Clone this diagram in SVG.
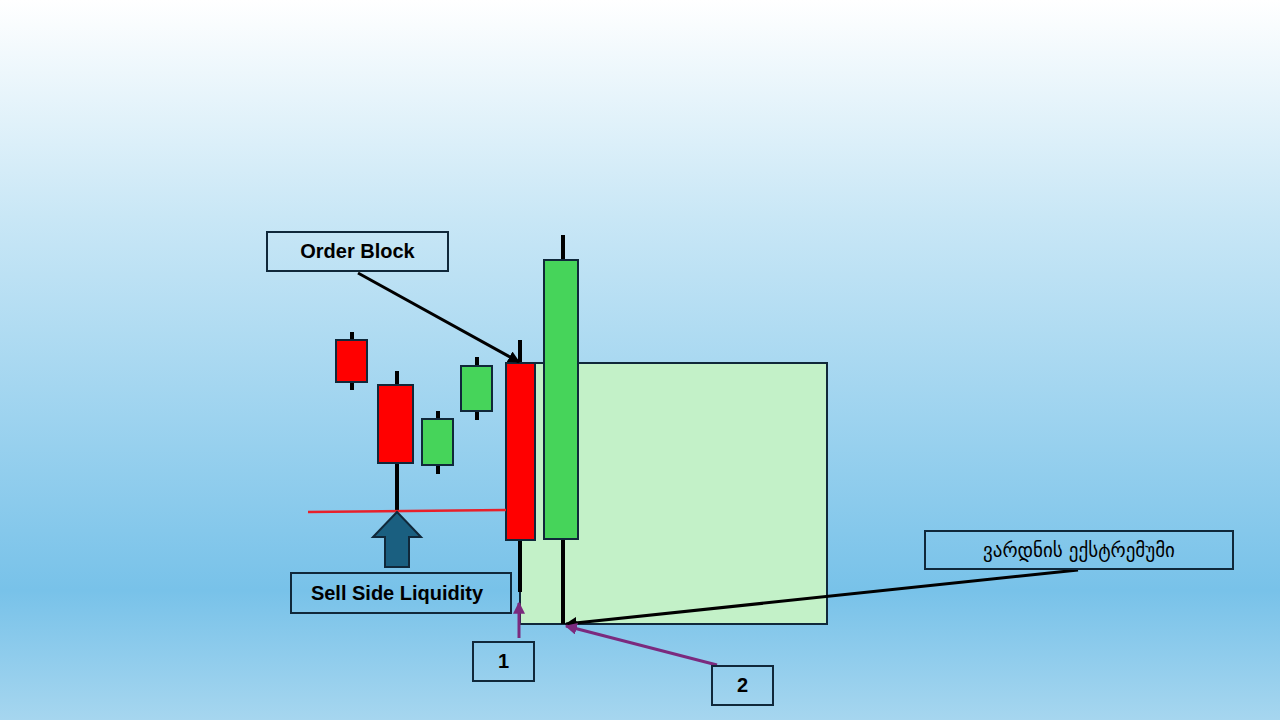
<svg xmlns="http://www.w3.org/2000/svg" width="1280" height="720" viewBox="0 0 1280 720">
<defs>
<linearGradient id="bg" x1="0" y1="0" x2="0" y2="1">
<stop offset="0" stop-color="#ffffff"/><stop offset="0.3" stop-color="#c9e7f6"/><stop offset="0.82" stop-color="#78c2e9"/><stop offset="1" stop-color="#a6d6ef"/>
</linearGradient>
<marker id="ab" viewBox="0 0 10 10" refX="9" refY="5" markerWidth="4" markerHeight="4" orient="auto"><path d="M0,0L10,5L0,10z" fill="#000"/></marker>
<marker id="ap" viewBox="0 0 10 10" refX="9" refY="5" markerWidth="4" markerHeight="4" orient="auto"><path d="M0,0L10,5L0,10z" fill="#7b2a7e"/></marker>
</defs>
<style>
.box{fill:none;stroke:#10283a;stroke-width:2}
.t{font-family:"Liberation Sans",Arial,sans-serif;font-weight:bold;font-size:20px;fill:#000}
.r{fill:#ff0000;stroke:#10283a;stroke-width:2}
.g{fill:#46d45a;stroke:#10283a;stroke-width:2}
.w{stroke:#000;stroke-width:4}
</style>
<rect width="1280" height="720" fill="url(#bg)"/>
<rect x="520" y="363" width="307" height="261" fill="#c3f1c8" stroke="#10283a" stroke-width="2"/>
<g id="candles">
<line class="w" x1="352" y1="332" x2="352" y2="390"/><rect class="r" x="336" y="340" width="31" height="42"/>
<line class="w" x1="397" y1="371" x2="397" y2="511"/><rect class="r" x="378" y="385" width="35" height="78"/>
<line class="w" x1="438" y1="411" x2="438" y2="474"/><rect class="g" x="422" y="419" width="31" height="46"/>
<line class="w" x1="477" y1="357" x2="477" y2="420"/><rect class="g" x="461" y="366" width="31" height="45"/>
<line class="w" x1="520" y1="340" x2="520" y2="592"/><rect class="r" x="506" y="363" width="29" height="177"/>
<line class="w" x1="563" y1="235" x2="563" y2="624"/><rect class="g" x="544" y="260" width="34" height="279"/>
</g>
<line x1="308" y1="512" x2="506" y2="510" stroke="#e8202a" stroke-width="2.5"/>
<path id="ssl-arrow" d="M397,512L421,537L409,537L409,567L385,567L385,537L373,537Z" fill="#1a5f80" stroke="#10283a" stroke-width="2"/>
<g id="connectors">
<line x1="358" y1="273" x2="519" y2="362" stroke="#000" stroke-width="3" marker-end="url(#ab)"/>
<line x1="1078" y1="570" x2="566" y2="624" stroke="#000" stroke-width="3" marker-end="url(#ab)"/>
<line x1="519" y1="638" x2="519" y2="603" stroke="#7b2a7e" stroke-width="3" marker-end="url(#ap)"/>
<line x1="717" y1="665" x2="566" y2="626" stroke="#7b2a7e" stroke-width="3" marker-end="url(#ap)"/>
</g>
<g id="order-block"><rect class="box" x="267" y="232" width="181" height="39"/><text class="t" x="357.5" y="258" text-anchor="middle">Order Block</text></g>
<g id="ssl"><rect class="box" x="291" y="573" width="220" height="40"/><text class="t" x="397" y="600" text-anchor="middle">Sell Side Liquidity</text></g>
<g id="n1"><rect class="box" x="473" y="642" width="61" height="39"/><text class="t" x="503.5" y="668" text-anchor="middle">1</text></g>
<g id="n2"><rect class="box" x="712" y="666" width="61" height="39"/><text class="t" x="742.5" y="692" text-anchor="middle">2</text></g>
<g id="extreme"><rect class="box" x="925" y="531" width="308" height="38"/><text x="1079" y="557" text-anchor="middle" font-family="'DejaVu Sans','Noto Sans',sans-serif" font-size="19" fill="#000">ვარდნის ექსტრემუმი</text></g>
</svg>
